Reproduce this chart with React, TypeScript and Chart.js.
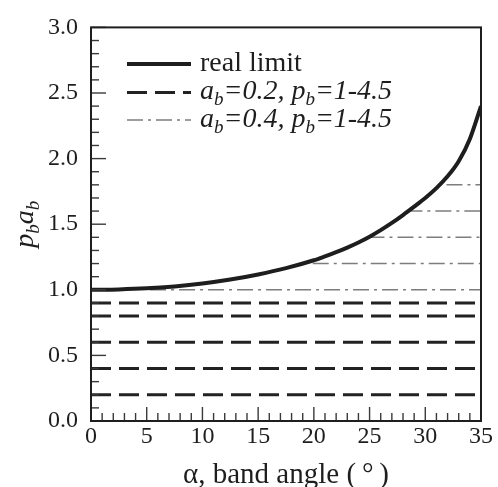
import React, { useEffect, useRef } from "react";
import { Chart, registerables } from "chart.js";

Chart.register(...registerables);

// Band angle (degrees) and the real limit of p_b * a_b
const bandAngle = [0, 2.5, 5, 7.5, 10, 12.5, 15, 17.5, 20, 21, 22, 23, 24, 25, 26, 27, 28, 29, 30, 31, 32, 33, 34, 35];
const realLimit = [
  1.0, 1.003, 1.011, 1.026, 1.048, 1.078, 1.117, 1.165, 1.225, 1.255, 1.287, 1.322, 1.361, 1.405,
  1.455, 1.51, 1.57, 1.634, 1.7, 1.775, 1.865, 1.98, 2.15, 2.4,
];

// a_b = 0.2, p_b = 1, 2, 3, 4, 4.5  -> constant p_b*a_b levels
const levelsA02 = [0.2, 0.4, 0.6, 0.8, 0.9];
// a_b = 0.4, p_b = 2.5 ... 4.5 -> levels drawn from where they leave the limit curve
const levelsA04 = [1.0, 1.2, 1.4, 1.6, 1.8];
const startsA04 = [5.3, 19.9, 24.9, 28.3, 31.9];

const X_MIN = 0;
const X_MAX = 35;
const Y_MIN = 0;
const Y_MAX = 3;
const X_MAJOR = 5;
const X_MINOR = 1;
const Y_MAJOR = 0.5;
const Y_MINOR = 0.1;

const SERIF = '"Liberation Serif", "Times New Roman", Times, serif';
const INK = "#1e1e1e";
const DASH_COLOR = "#222";
const DASHDOT_COLOR = "#7d7d7d";
const DASH = [20, 8];
const DASHDOT = [16, 5, 3, 5];

type Seg = { t: string; sub?: boolean };

function drawRich(
  ctx: CanvasRenderingContext2D,
  segs: Seg[],
  x: number,
  y: number,
  size: number,
  italic: boolean,
  align: "left" | "center"
) {
  const subSize = Math.round(size * 0.68);
  const style = italic ? "italic " : "";
  const fontFor = (s: Seg) => `${style}${s.sub ? subSize : size}px ${SERIF}`;
  let total = 0;
  for (const s of segs) {
    ctx.font = fontFor(s);
    total += ctx.measureText(s.t).width;
  }
  let cx = align === "center" ? x - total / 2 : x;
  ctx.textAlign = "left";
  ctx.textBaseline = "alphabetic";
  for (const s of segs) {
    ctx.font = fontFor(s);
    ctx.fillText(s.t, cx, s.sub ? y + size * 0.22 : y);
    cx += ctx.measureText(s.t).width;
  }
}

const decorPlugin = {
  id: "decor",
  afterDatasetsDraw(chart: any) {
    const { ctx, chartArea: a, scales } = chart;
    const xs = scales.x;
    const ys = scales.y;
    ctx.save();
    ctx.strokeStyle = "#3a3a3a";
    ctx.lineWidth = 1.4;
    ctx.setLineDash([]);
    // inward ticks on the bottom axis
    const nx = Math.round((X_MAX - X_MIN) / X_MINOR);
    for (let i = 0; i <= nx; i++) {
      const v = X_MIN + i * X_MINOR;
      const px = xs.getPixelForValue(v);
      const major = Math.abs(v / X_MAJOR - Math.round(v / X_MAJOR)) < 1e-6;
      const len = major ? 14 : 8;
      ctx.beginPath();
      ctx.moveTo(px, a.bottom);
      ctx.lineTo(px, a.bottom - len);
      ctx.stroke();
    }
    // inward ticks on the left axis
    const ny = Math.round((Y_MAX - Y_MIN) / Y_MINOR);
    for (let i = 0; i <= ny; i++) {
      const v = Y_MIN + i * Y_MINOR;
      const py = ys.getPixelForValue(v);
      const major = i % Math.round(Y_MAJOR / Y_MINOR) === 0;
      const len = major ? 15 : 8;
      ctx.beginPath();
      ctx.moveTo(a.left, py);
      ctx.lineTo(a.left + len, py);
      ctx.stroke();
    }
    // plot frame
    ctx.strokeStyle = INK;
    ctx.lineWidth = 2;
    ctx.strokeRect(a.left, a.top, a.right - a.left, a.bottom - a.top);
    ctx.restore();
  },
  afterDraw(chart: any) {
    const { ctx, chartArea: a } = chart;
    ctx.save();
    ctx.fillStyle = INK;

    // legend
    const lx0 = 127;
    const lx1 = 191;
    const tx = 200;
    const rows = [
      { y: 64, color: INK, width: 4, dash: [] as number[], segs: [{ t: "real limit" }] as Seg[], italic: false },
      {
        y: 92.5,
        color: DASH_COLOR,
        width: 3,
        dash: DASH,
        segs: [{ t: "a" }, { t: "b", sub: true }, { t: "=0.2, p" }, { t: "b", sub: true }, { t: "=1-4.5" }] as Seg[],
        italic: true,
      },
      {
        y: 120,
        color: DASHDOT_COLOR,
        width: 1.5,
        dash: DASHDOT,
        segs: [{ t: "a" }, { t: "b", sub: true }, { t: "=0.4, p" }, { t: "b", sub: true }, { t: "=1-4.5" }] as Seg[],
        italic: true,
      },
    ];
    for (const r of rows) {
      ctx.strokeStyle = r.color;
      ctx.lineWidth = r.width;
      ctx.setLineDash(r.dash);
      ctx.beginPath();
      ctx.moveTo(lx0, r.y);
      ctx.lineTo(lx1, r.y);
      ctx.stroke();
      ctx.setLineDash([]);
      drawRich(ctx, r.segs, tx, r.y + 6.5, 28, r.italic, "left");
    }

    // x axis title
    const cx = (a.left + a.right) / 2;
    ctx.font = `29px ${SERIF}`;
    ctx.textAlign = "center";
    ctx.textBaseline = "alphabetic";
    ctx.fillText("\u03b1, band angle (\u2009\u00b0\u2009)", cx, 483);

    // y axis title
    const cy = (a.top + a.bottom) / 2;
    ctx.translate(33, cy);
    ctx.rotate(-Math.PI / 2);
    drawRich(
      ctx,
      [{ t: "p" }, { t: "b", sub: true }, { t: "a" }, { t: "b", sub: true }],
      0,
      0,
      28,
      true,
      "center"
    );
    ctx.restore();
  },
};

export default function App() {
  const ref = useRef<HTMLCanvasElement | null>(null);

  useEffect(() => {
    if (!ref.current) return;

    const datasets: any[] = [
      {
        label: "real limit",
        data: bandAngle.map((x, i) => ({ x, y: realLimit[i] })),
        borderColor: INK,
        borderWidth: 4,
        cubicInterpolationMode: "monotone",
        pointRadius: 0,
        fill: false,
      },
    ];
    levelsA02.forEach((v) => {
      datasets.push({
        label: `a_b=0.2 ${v}`,
        data: [
          { x: X_MIN, y: v },
          { x: X_MAX, y: v },
        ],
        borderColor: DASH_COLOR,
        borderWidth: 3,
        borderDash: DASH,
        borderCapStyle: "butt",
        pointRadius: 0,
        fill: false,
      });
    });
    levelsA04.forEach((v, i) => {
      datasets.push({
        label: `a_b=0.4 ${v}`,
        data: [
          { x: startsA04[i], y: v },
          { x: X_MAX, y: v },
        ],
        borderColor: DASHDOT_COLOR,
        borderWidth: 1.5,
        borderDash: DASHDOT,
        pointRadius: 0,
        fill: false,
      });
    });

    const tickFont = { family: SERIF, size: 24 };

    const chart = new Chart(ref.current, {
      type: "line",
      data: { datasets },
      options: {
        animation: false,
        responsive: false,
        maintainAspectRatio: false,
        layout: { padding: { top: 17, right: 17, left: 0, bottom: 0 } },
        plugins: {
          legend: { display: false },
          tooltip: { enabled: false },
        },
        scales: {
          x: {
            type: "linear",
            min: X_MIN,
            max: X_MAX,
            grid: { display: false, drawTicks: false },
            border: { display: false },
            ticks: {
              stepSize: X_MAJOR,
              padding: 1,
              maxRotation: 0,
              autoSkip: false,
              color: INK,
              font: tickFont,
            },
            afterFit: (s: any) => {
              s.height = 66;
            },
          },
          y: {
            type: "linear",
            min: Y_MIN,
            max: Y_MAX,
            grid: { display: false, drawTicks: false },
            border: { display: false },
            ticks: {
              stepSize: Y_MAJOR,
              padding: 13,
              color: INK,
              font: tickFont,
              callback: (v: any) => Number(v).toFixed(1),
            },
            afterFit: (s: any) => {
              s.width = 91;
            },
          },
        },
      } as any,
      plugins: [decorPlugin],
    });

    return () => chart.destroy();
  }, []);

  return (
    <div style={{ position: "fixed", left: 0, top: 0, width: 498, height: 487, background: "#fff" }}>
      <canvas ref={ref} width={498} height={487} style={{ display: "block" }} />
    </div>
  );
}
